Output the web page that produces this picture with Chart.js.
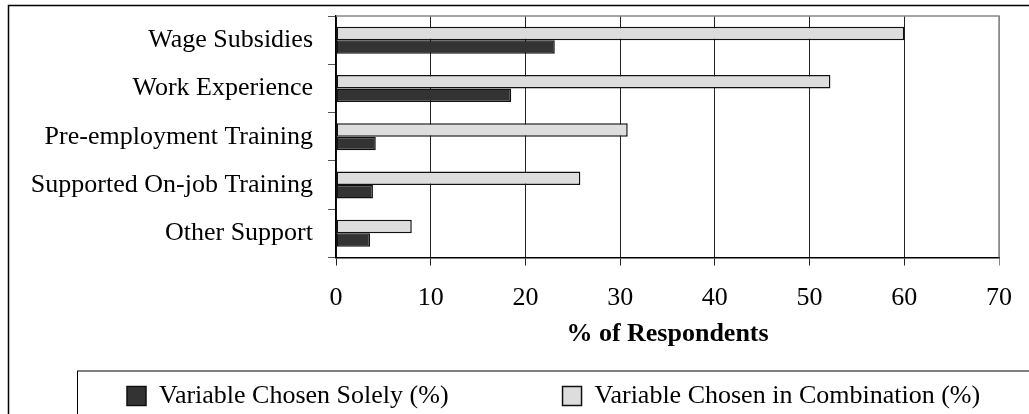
<!DOCTYPE html>
<html>
<head>
<meta charset="utf-8">
<script src="https://cdn.jsdelivr.net/npm/chart.js@4.4.1/dist/chart.umd.min.js"></script>
<style>
  body { margin: 0; background: #fff; }
  #cadre { width: 1029px; height: 414px; }
</style>
</head>
<body>
<div id="cadre"><canvas id="chartCanvas"></canvas></div>
<script>
// donnees
const categories = ['Wage Subsidies', 'Work Experience', 'Pre-employment Training', 'Supported On-job Training', 'Other Support'];
const choisiSeul = [23.1, 18.5, 4.2, 3.9, 3.6];
const choisiCombinaison = [60, 52.2, 30.8, 25.8, 8.0];
const nomsSeries = ['Variable Chosen Solely (%)', 'Variable Chosen in Combination (%)'];
const axeX = { min: 0, max: 70, pas: 10 };
const titreX = '% of Respondents';

Chart.defaults.font.family = "'Liberation Serif', 'Times New Roman', serif";
Chart.defaults.font.size = 26;
Chart.defaults.color = '#000';

// cadre exterieur, bord du graphique et boite de legende
const cadres = {
    id: 'cadres',
    afterLayout(chart) {
        // decale la legende vers la droite (comme l'original)
        chart.legend.left = 117;
    },
    afterDraw(chart) {
        const ctx = chart.ctx;
        const a = chart.chartArea;
        ctx.save();
        ctx.strokeStyle = '#888';
        ctx.lineWidth = 1.5;
        ctx.beginPath();
        ctx.moveTo(a.left, a.top);
        ctx.lineTo(a.right, a.top);
        ctx.lineTo(a.right, a.bottom);
        ctx.stroke();
        ctx.strokeStyle = '#000';
        ctx.lineWidth = 1.5;
        ctx.strokeRect(8.5, 5.5, 1200, 600);
        ctx.lineWidth = 1;
        ctx.strokeRect(77.5, chart.legend.top - 2, 1200, 200);
        ctx.restore();
    }
};

const ctx = document.getElementById('chartCanvas').getContext('2d');
new Chart(ctx, {
    type: 'bar',
    data: {
        labels: categories,
        datasets: [{
            label: nomsSeries[1],
            data: choisiCombinaison,
            backgroundColor: '#dddddd',
            borderColor: '#111',
            borderWidth: 1.5,
            borderSkipped: false
        }, {
            label: nomsSeries[0],
            data: choisiSeul,
            backgroundColor: '#333333',
            borderColor: '#111',
            borderWidth: 1.5,
            borderSkipped: false
        }]
    },
    options: {
        indexAxis: 'y',
        responsive: true,
        maintainAspectRatio: false,
        animation: false,
        categoryPercentage: 0.56,
        barPercentage: 1,
        layout: { padding: { left: 20, right: 27, top: 16, bottom: -5 } },
        scales: {
            x: {
                min: axeX.min,
                max: axeX.max,
                ticks: { stepSize: axeX.pas, padding: 17 },
                grid: {
                    color: c => (c.tick && c.tick.value === axeX.max) ? '#888' : '#222',
                    lineWidth: 1,
                    tickLength: 8
                },
                border: { color: '#000', width: 1.5 },
                title: {
                    display: true,
                    text: titreX,
                    font: { weight: 'bold', size: 26 },
                    padding: { top: 0, bottom: 23 }
                },
                afterFit: scale => { scale.height = 115.5; }
            },
            y: {
                ticks: { padding: 15 },
                grid: { drawOnChartArea: false, tickLength: 8, color: '#555' },
                border: { color: '#000', width: 1.5 },
                afterFit: scale => {
                    scale.width = 316;
                    scale.paddingTop = 0;
                    scale.paddingBottom = 0;
                }
            }
        },
        plugins: {
            tooltip: { enabled: false },
            legend: {
                position: 'bottom',
                align: 'start',
                labels: {
                    boxWidth: 19,
                    boxHeight: 19,
                    padding: 10,
                    sort: (a, b) => b.datasetIndex - a.datasetIndex,
                    // espaces pour ecarter le 2e element comme dans l'original
                    generateLabels: chart => {
                        const items = Chart.defaults.plugins.legend.labels.generateLabels(chart);
                        items.forEach(it => {
                            if (it.datasetIndex === 1) it.text = it.text + ' '.repeat(16);
                        });
                        return items;
                    }
                }
            }
        }
    },
    plugins: [cadres]
});
</script>
</body>
</html>
